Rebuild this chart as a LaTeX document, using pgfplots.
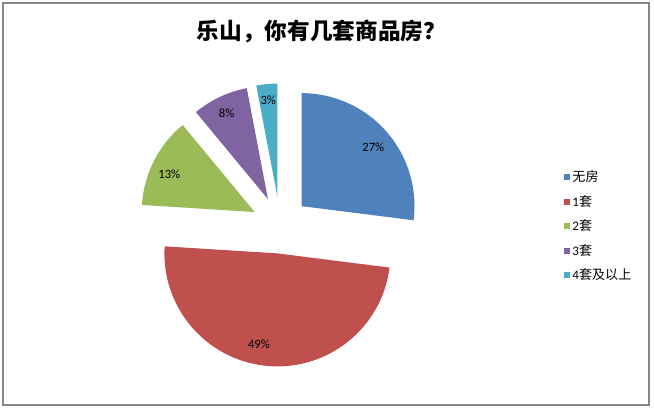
\documentclass[border=0pt]{standalone}
\usepackage{pgfplots}
\pgfplotsset{compat=1.18}
\usepackage{pgfplotstable}
\usepackage{fontspec}
\usetikzlibrary{calc}
\setmainfont{Carlito}
\newfontfamily\cjk{Noto Sans CJK SC}

\definecolor{pie0}{HTML}{4F81BD}
\definecolor{pie1}{HTML}{C0504D}
\definecolor{pie2}{HTML}{9BBB59}
\definecolor{pie3}{HTML}{8064A2}
\definecolor{pie4}{HTML}{4BACC6}
\definecolor{frame}{HTML}{868686}

% share in percent, label position in picture pixels (y up)
\pgfplotstableread{
share lx    ly
27    373.3 266.7
49    259.0 69.7
13    169.3 239.7
8     226.7 300.7
3     268.3 314.0
}\piedata

\newcommand\pielabelfont{\fontsize{9.5}{11}\selectfont}

% start, end and middle angle of each slice, clockwise from the top
\xdef\acc{90}
\pgfplotsforeachungrouped \i in {0,...,4}{%
  \pgfplotstablegetelem{\i}{share}\of\piedata
  \let\val\pgfplotsretval
  \pgfmathsetmacro\s{\acc}%
  \pgfmathsetmacro\e{\acc-3.6*\val}%
  \pgfmathsetmacro\m{(\s+\e)/2}%
  \expandafter\xdef\csname pieS\i\endcsname{\s}%
  \expandafter\xdef\csname pieE\i\endcsname{\e}%
  \expandafter\xdef\csname pieM\i\endcsname{\m}%
  \expandafter\xdef\csname pieV\i\endcsname{\val}%
  \pgfplotstablegetelem{\i}{lx}\of\piedata
  \expandafter\xdef\csname pieX\i\endcsname{\pgfplotsretval}%
  \pgfplotstablegetelem{\i}{ly}\of\piedata
  \expandafter\xdef\csname pieY\i\endcsname{\pgfplotsretval}%
  \xdef\acc{\e}%
}

\begin{document}
\begin{tikzpicture}
\begin{axis}[
  scale only axis, width=490.5pt, height=310.5pt,
  xmin=0, xmax=654, ymin=0, ymax=414,
  hide axis, clip=false,
  legend style={at={(axis cs:563.5,246)}, anchor=north west, draw=none, fill=none,
    font=\cjk\fontsize{9.8}{11}\selectfont, row sep=4.6pt, inner sep=0pt,
    nodes={inner sep=2pt}},
  legend cell align=left,
  legend image code/.code={\fill[#1, draw=none] (0pt,-2.25pt) rectangle (4.5pt,2.25pt);},
]
\fill[white] (axis cs:0,0) rectangle (axis cs:654,414);
\draw[frame, line width=1.1pt] (axis cs:3,9) rectangle (axis cs:649,411);

\pgfplotsinvokeforeach{0,...,4}{
  \edef\temp{\noexpand\fill[pie#1]
    ($(axis cs:280.1,189)+(\csname pieM#1\endcsname:21.4pt)$)
    -- +(\csname pieS#1\endcsname:84.75pt)
    arc[start angle=\csname pieS#1\endcsname, end angle=\csname pieE#1\endcsname, radius=84.75pt]
    -- cycle;}
  \temp
  \edef\temp{\noexpand\node[font=\noexpand\pielabelfont, inner sep=0pt]
    at (axis cs:\csname pieX#1\endcsname,\csname pieY#1\endcsname)
    {\csname pieV#1\endcsname\noexpand\%};}
  \temp
}

\node[font=\cjk\bfseries\fontsize{17}{20}\selectfont] at (axis cs:321.5,382.3) {乐山，你有几套商品房？};

\addlegendimage{fill=pie0}
\addlegendentry{无房}
\addlegendimage{fill=pie1}
\addlegendentry{{\rmfamily 1}套}
\addlegendimage{fill=pie2}
\addlegendentry{{\rmfamily 2}套}
\addlegendimage{fill=pie3}
\addlegendentry{{\rmfamily 3}套}
\addlegendimage{fill=pie4}
\addlegendentry{{\rmfamily 4}套及以上}
\end{axis}
\end{tikzpicture}
\end{document}
